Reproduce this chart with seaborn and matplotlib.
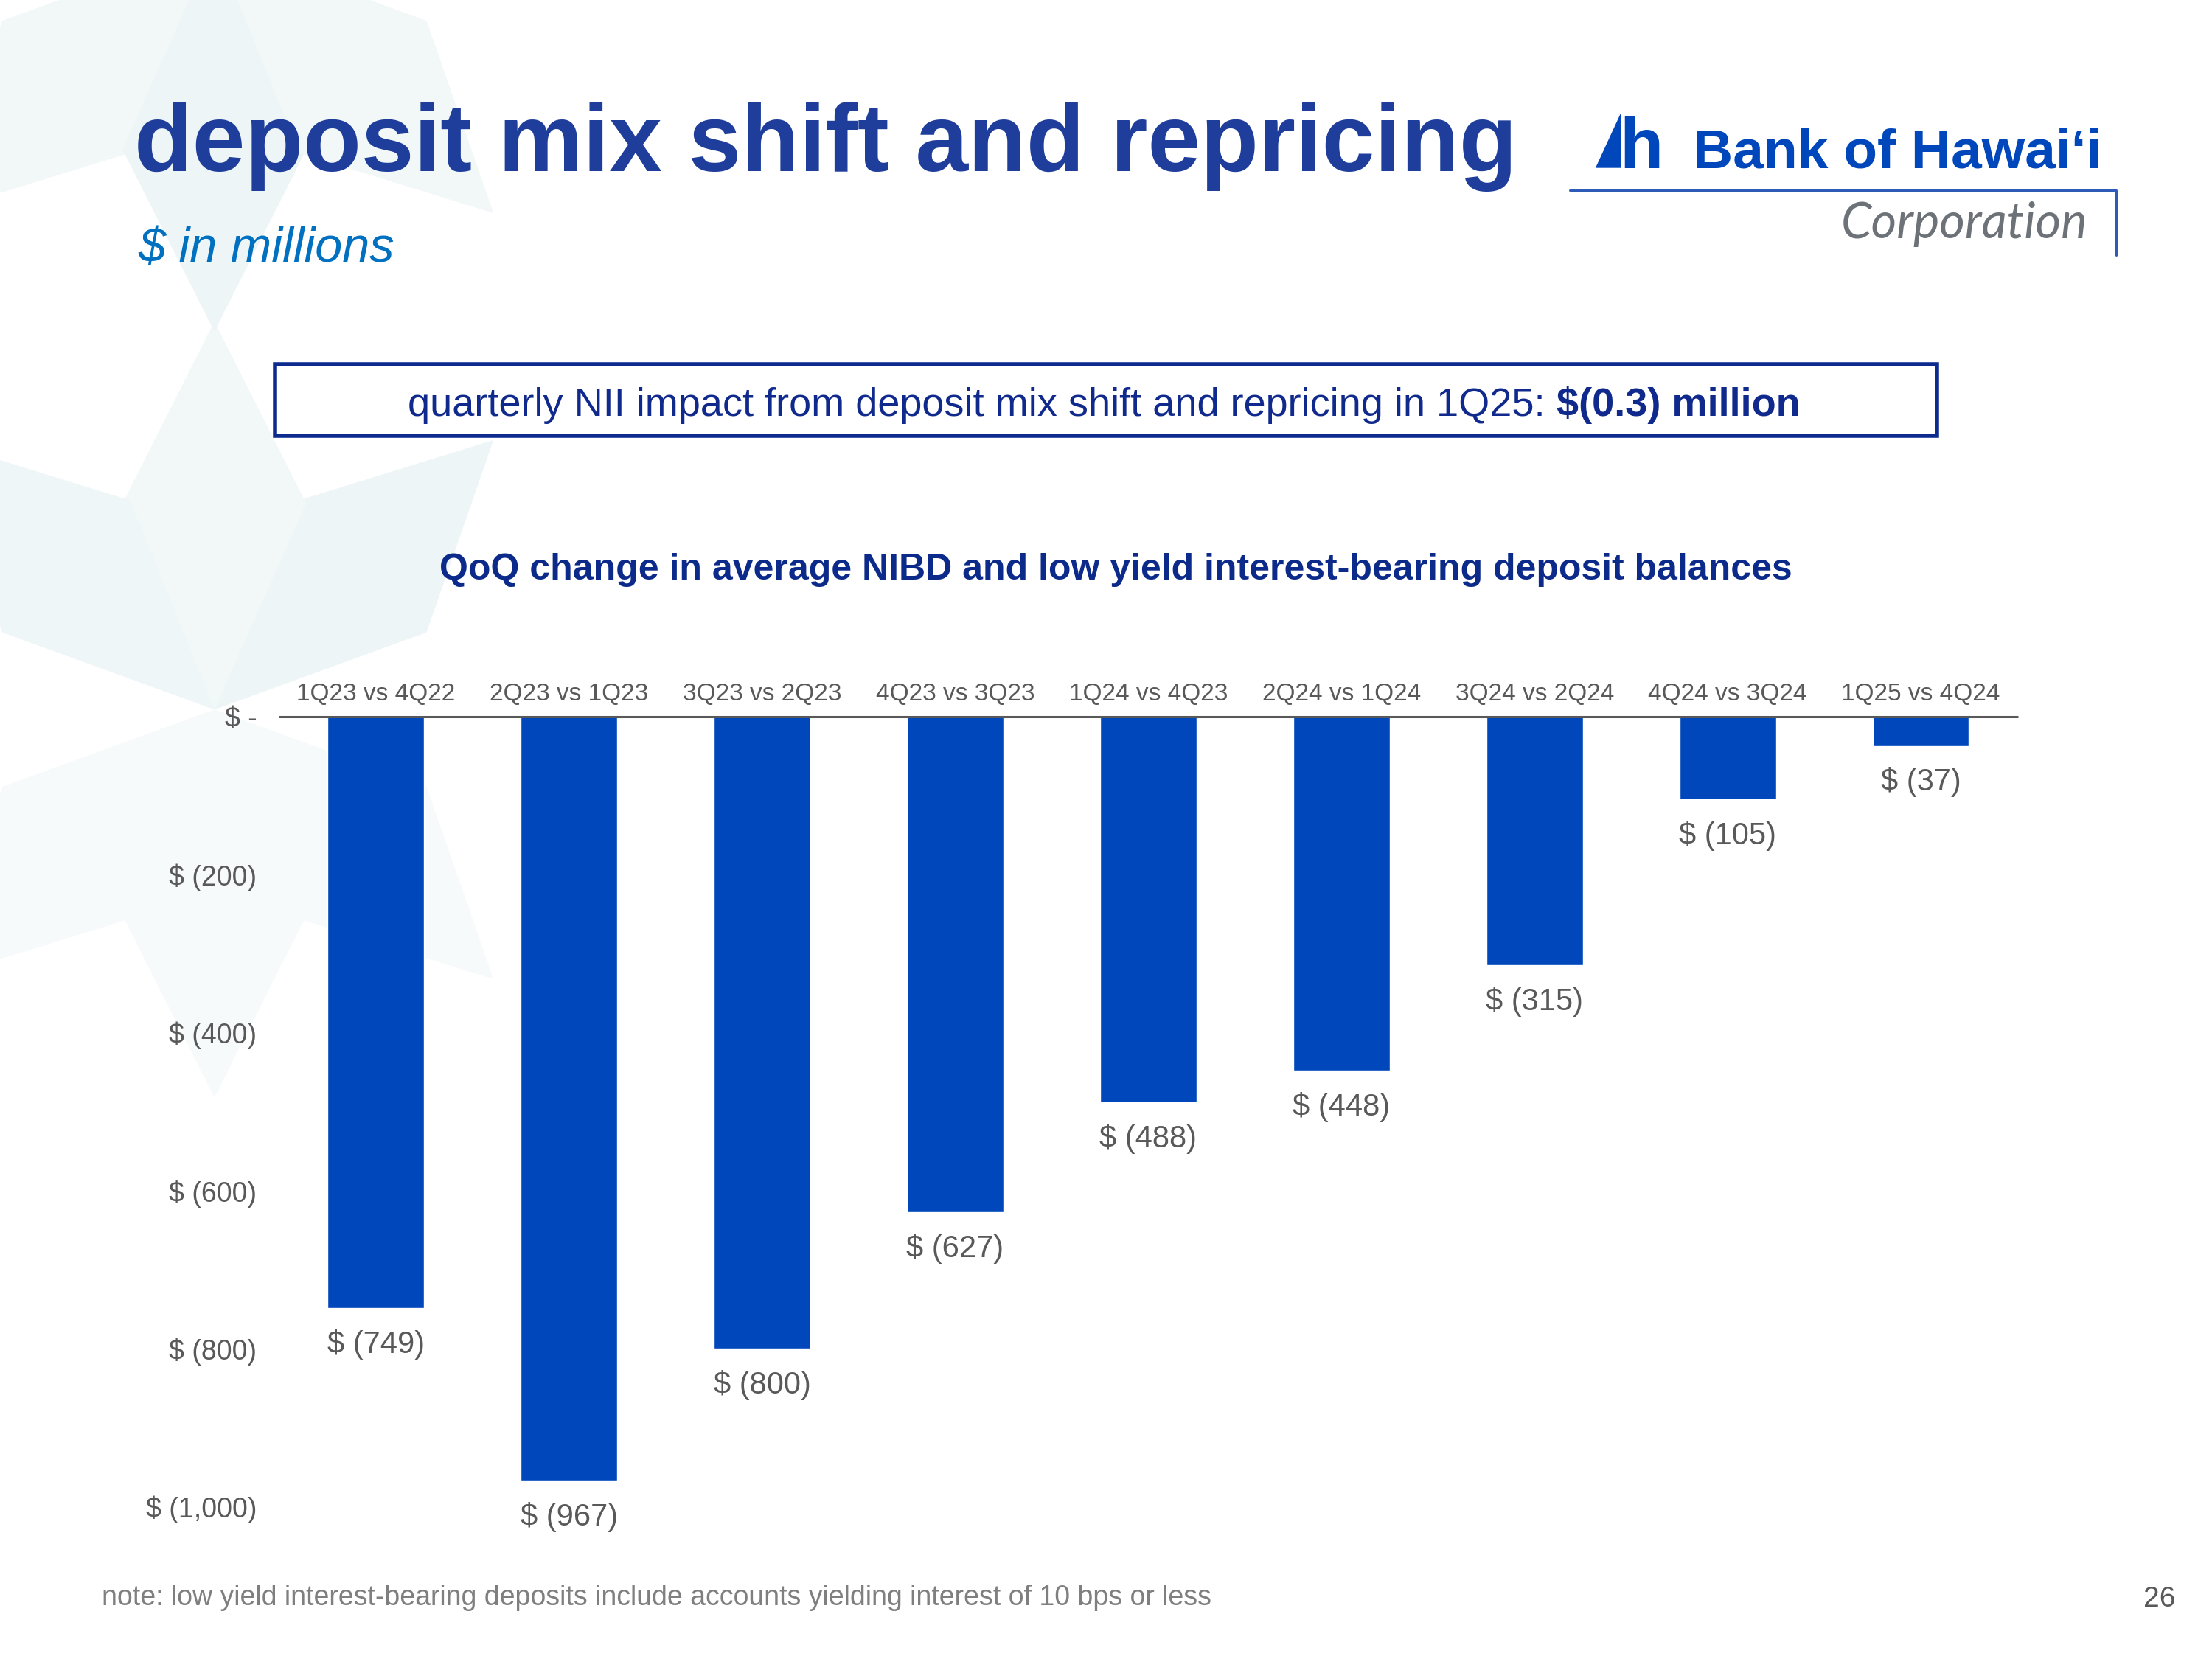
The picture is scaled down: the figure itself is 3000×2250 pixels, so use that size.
import matplotlib
matplotlib.use("Agg")
import numpy as np
import matplotlib.pyplot as plt
import seaborn as sns
from matplotlib.patches import Polygon, Rectangle

# ----------------------------- data -----------------------------
categories = ["1Q23 vs 4Q22", "2Q23 vs 1Q23", "3Q23 vs 2Q23", "4Q23 vs 3Q23",
              "1Q24 vs 4Q23", "2Q24 vs 1Q24", "3Q24 vs 2Q24", "4Q24 vs 3Q24",
              "1Q25 vs 4Q24"]
changes = [-749, -967, -800, -627, -488, -448, -315, -105, -37]
y_ticks = [0, -200, -400, -600, -800, -1000]
y_tick_labels = ["$ -", "$ (200)", "$ (400)", "$ (600)", "$ (800)", "$ (1,000)"]

BAR_BLUE = "#0047BB"
NAVY = "#10298C"
GRAY = "#595959"

sns.set_style("white")
plt.rcParams['font.family'] = ['Liberation Sans', 'DejaVu Sans']

fig = plt.figure(figsize=(30, 22.5), dpi=100)
fig.patch.set_facecolor("white")

# background layer in slide pixel units (1568 x 1176)
bg = fig.add_axes([0, 0, 1, 1], zorder=0)
bg.set_xlim(0, 1568)
bg.set_ylim(1176, 0)
bg.axis("off")


def petal(cx, cy, ang, color, r_side=160, r_out=275, spread=24):
    def pt(r, a):
        a = np.deg2rad(a)
        return (cx + r * np.cos(a), cy - r * np.sin(a))
    pts = [(cx, cy), pt(r_side, ang - spread), pt(r_out, ang), pt(r_side, ang + spread)]
    return Polygon(pts, closed=True, facecolor=color, edgecolor="none")


# faint star decoration on the left of the slide
for ang, col in [(44, "#EEF5F6"), (90, "#F2F7F8"), (136, "#EFF6F7")]:
    bg.add_patch(petal(152, 503, ang, col))
for ang in [224, 270, 316]:
    bg.add_patch(petal(152, 503, ang, "#F6FAFA"))
for ang, col in [(224, "#F2F7F8"), (270, "#EEF5F6"), (316, "#F2F7F8")]:
    bg.add_patch(petal(152, -40, ang, col))

# ----------------------------- header -----------------------------
bg.text(95, 121, "deposit mix shift and repricing", fontsize=92.8, fontweight="bold",
        color="#1F3E9C", ha="left", va="baseline")
bg.text(98, 186, "$ in millions", fontsize=48, style="italic", color="#0070C0",
        ha="left", va="baseline")

# logo
bg.add_patch(Polygon([(1131, 119), (1149, 80), (1149, 119)], closed=True,
                     facecolor=BAR_BLUE, edgecolor="none"))
bg.text(1148, 119, "h", fontsize=70, fontweight="bold", color=BAR_BLUE,
        ha="left", va="baseline")
bg.text(1200, 119, "Bank of Hawai\u02bbi", fontsize=54, fontweight="bold",
        color=BAR_BLUE, ha="left", va="baseline",
        family=["Liberation Sans", "DejaVu Sans"])
bg.plot([1113, 1500, 1500], [135, 135, 181], color="#2F5BB8", lw=2.2)
bg.text(1480, 169, "Corporation", fontsize=48, style="italic", color="#6D7278",
        ha="right", va="baseline", family=["Lato", "DejaVu Sans"])

# highlight box
bg.add_patch(Rectangle((195, 258), 1178, 51, fill=False, edgecolor="#0D2B8F", lw=4))
t1 = bg.text(289, 295, "quarterly NII impact from deposit mix shift and repricing in 1Q25: ",
             fontsize=39, color=NAVY, ha="left", va="baseline")
fig.canvas.draw()
bb = t1.get_window_extent(renderer=fig.canvas.get_renderer())
x_end = bg.transData.inverted().transform((bb.x1, bb.y0))[0]
bg.text(x_end, 295, "$(0.3) million", fontsize=39, fontweight="bold", color=NAVY,
        ha="left", va="baseline")

# chart title
bg.text(791, 411, "QoQ change in average NIBD and low yield interest-bearing deposit balances",
        fontsize=36, fontweight="bold", color="#0B2A8A", ha="center", va="baseline")

# footer
bg.text(72, 1138, "note: low yield interest-bearing deposits include accounts yielding interest of 10 bps or less",
        fontsize=27, color="#7F7F7F", ha="left", va="baseline")
bg.text(1542, 1139, "26", fontsize=28, color=GRAY, ha="right", va="baseline")

# ----------------------------- bar chart -----------------------------
ax = fig.add_axes([198 / 1568, 1 - 1068 / 1176, (1430 - 198) / 1568, (1068 - 508) / 1176],
                  zorder=2)
ax.patch.set_alpha(0)
sns.barplot(x=categories, y=changes, color=BAR_BLUE, saturation=1, width=0.5, ax=ax)
ax.set_xlim(-0.5, 8.5)
ax.set_ylim(-1000, 0)
ax.axhline(0, color=GRAY, lw=2.2, clip_on=False, zorder=3)

ax.xaxis.tick_top()
ax.tick_params(axis="x", length=0, pad=11, labelsize=24, labelcolor=GRAY)
ax.set_yticks(y_ticks)
ax.set_yticklabels(y_tick_labels)
ax.tick_params(axis="y", length=0, pad=22, labelsize=27, labelcolor=GRAY)
ax.set_xlabel("")
ax.set_ylabel("")
sns.despine(ax=ax, left=True, bottom=True, top=True, right=True)
ax.grid(False)

for i, v in enumerate(changes):
    ax.text(i, v - 46, f"$ ({abs(v)})", ha="center", va="center", fontsize=30,
            color=GRAY, clip_on=False)

fig.savefig("out.png", dpi=100)
